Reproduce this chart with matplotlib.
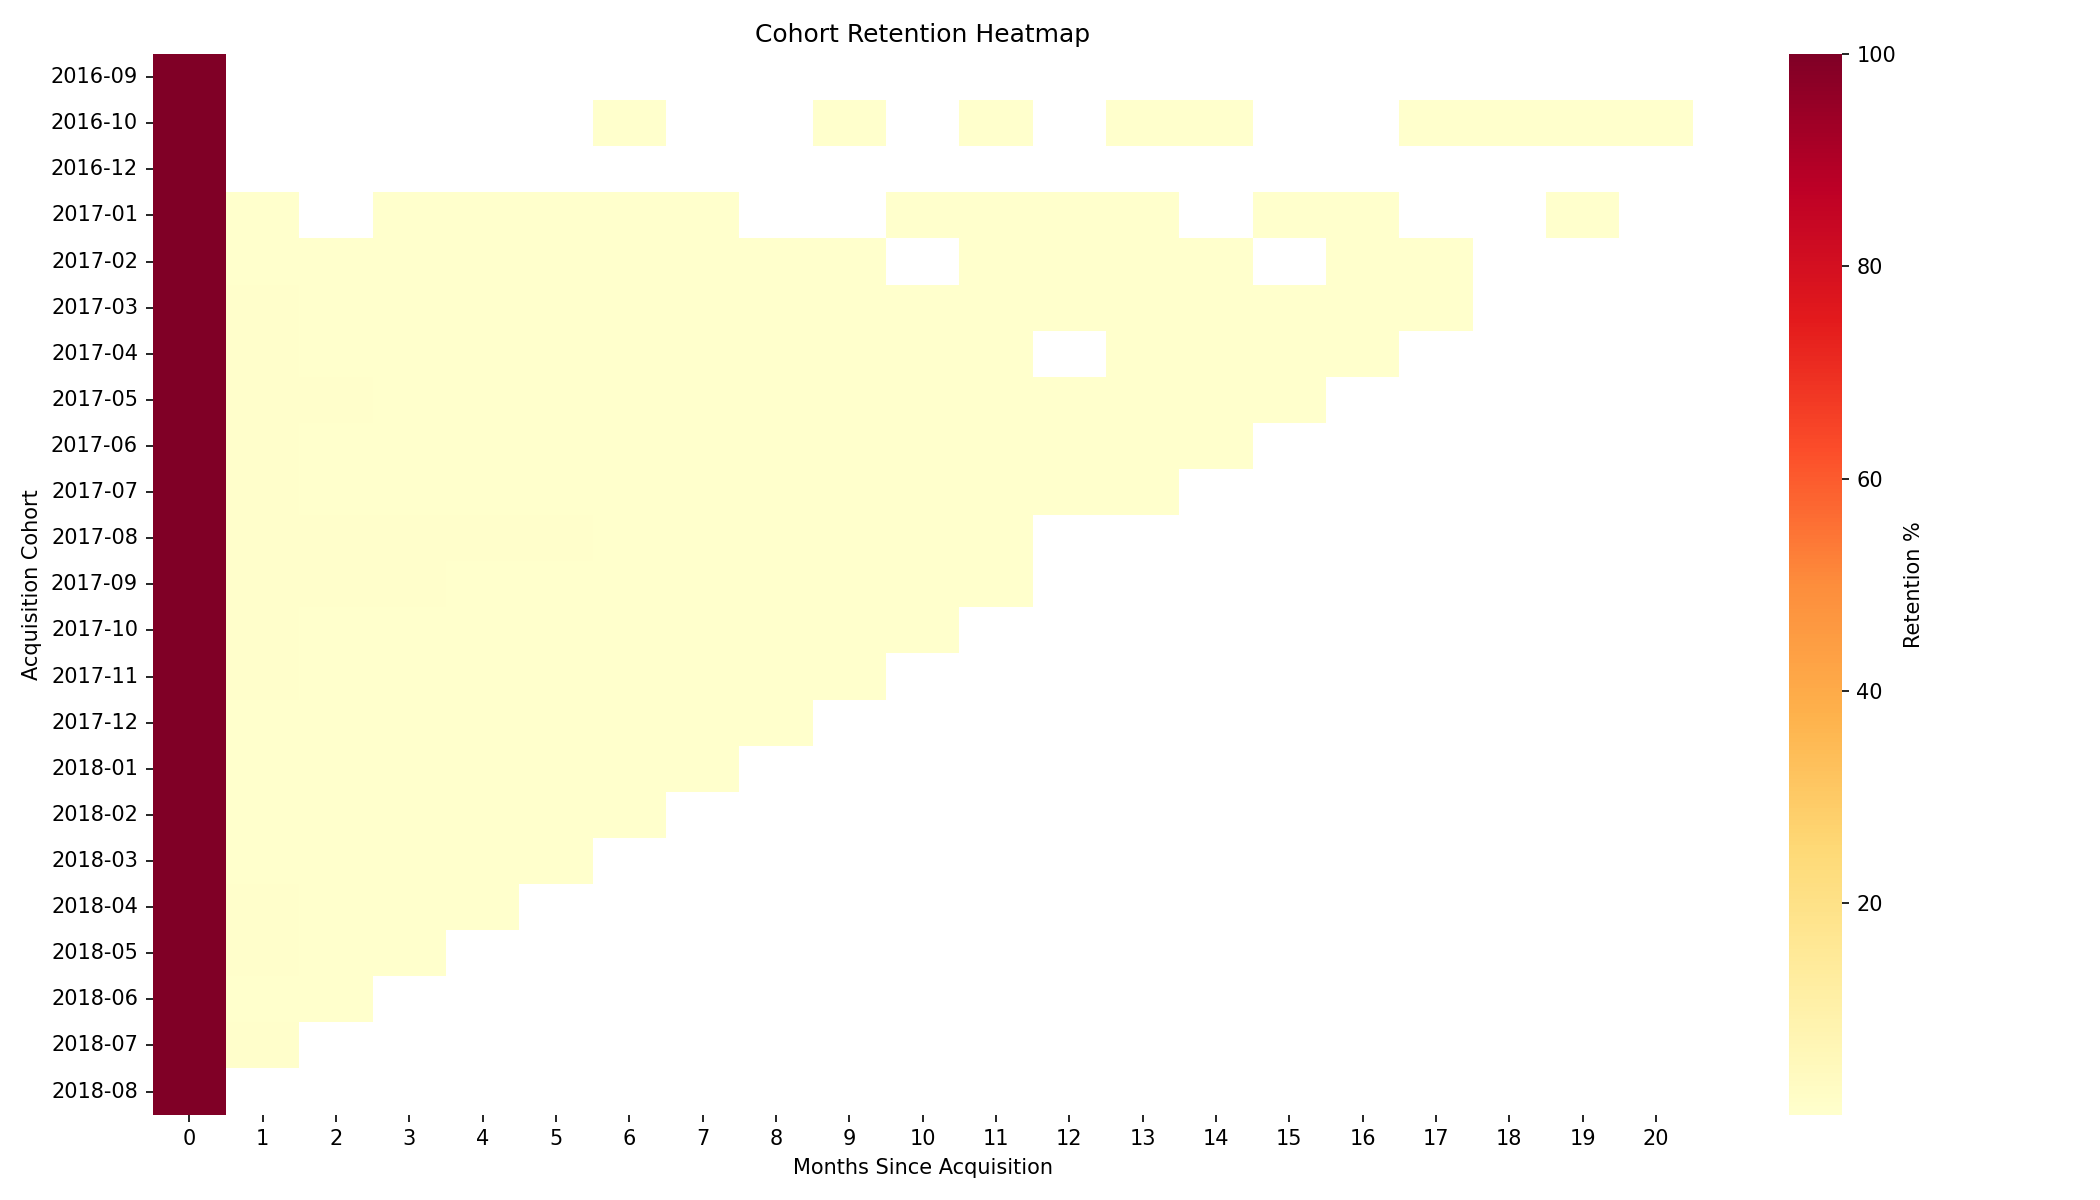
import numpy as np
import pandas as pd
import seaborn as sns
import matplotlib
matplotlib.use("Agg")
import matplotlib.pyplot as plt

n = np.nan
cohorts = ["2016-09", "2016-10", "2016-12", "2017-01", "2017-02", "2017-03", "2017-04",
           "2017-05", "2017-06", "2017-07", "2017-08", "2017-09", "2017-10", "2017-11",
           "2017-12", "2018-01", "2018-02", "2018-03", "2018-04", "2018-05", "2018-06",
           "2018-07", "2018-08"]
months = list(range(21))

r_1609 = [100]
r_1610 = [100, n, n, n, n, n, 0.3, n, n, 0.3, n, 0.3, n, 0.3, 0.3, n, n, 0.3, 0.3, 0.3, 0.3]
r_1612 = [100]
r_1701 = [100, 0.3, n, 0.4, 0.3, 0.3, 0.3, 0.3, n, n, 0.3, 0.4, 0.3, 0.4, n, 0.3, 0.3, n, n, 0.3]
r_1702 = [100, 0.25, 0.3, 0.2, 0.4, 0.2, 0.25, 0.2, 0.2, 0.2, n, 0.15, 0.3, 0.2, 0.3, n, 0.2, 0.2]
r_1703 = [100, 0.5, 0.35, 0.4, 0.35, 0.2, 0.2, 0.3, 0.35, 0.3, 0.4, 0.2, 0.2, 0.15, 0.2, 0.25, 0.2, 0.2]
r_1704 = [100, 0.6, 0.2, 0.2, 0.3, 0.25, 0.35, 0.3, 0.3, 0.3, 0.2, 0.1, n, 0.2, 0.1, 0.1, 0.15]
r_1705 = [100, 0.5, 0.5, 0.4, 0.3, 0.3, 0.4, 0.15, 0.25, 0.3, 0.25, 0.35, 0.25, 0.2, 0.25, 0.25]
r_1706 = [100, 0.5, 0.4, 0.4, 0.3, 0.4, 0.35, 0.35, 0.15, 0.2, 0.3, 0.35, 0.2, 0.25, 0.15]
r_1707 = [100, 0.5, 0.35, 0.25, 0.3, 0.2, 0.3, 0.3, 0.15, 0.25, 0.2, 0.3, 0.25, 0.3]
r_1708 = [100, 0.7, 0.6, 0.5, 0.5, 0.6, 0.3, 0.3, 0.25, 0.4, 0.2, 0.3]
r_1709 = [100, 0.7, 0.55, 0.6, 0.4, 0.4, 0.25, 0.3, 0.35, 0.25, 0.3, 0.25]
r_1710 = [100, 0.7, 0.4, 0.3, 0.35, 0.25, 0.25, 0.3, 0.35, 0.25, 0.2]
r_1711 = [100, 0.6, 0.4, 0.2, 0.2, 0.2, 0.15, 0.15, 0.2, 0.15]
r_1712 = [100, 0.25, 0.3, 0.3, 0.3, 0.2, 0.2, 0.2, 0.15]
r_1801 = [100, 0.35, 0.35, 0.3, 0.35, 0.25, 0.2, 0.2]
r_1802 = [100, 0.35, 0.35, 0.3, 0.25, 0.25, 0.2]
r_1803 = [100, 0.4, 0.3, 0.35, 0.35, 0.2]
r_1804 = [100, 0.6, 0.3, 0.2, 0.2]
r_1805 = [100, 0.5, 0.35, 0.3]
r_1806 = [100, 0.45, 0.3]
r_1807 = [100, 0.5]
r_1808 = [100]

rows = [r_1609, r_1610, r_1612, r_1701, r_1702, r_1703, r_1704, r_1705, r_1706, r_1707,
        r_1708, r_1709, r_1710, r_1711, r_1712, r_1801, r_1802, r_1803, r_1804, r_1805,
        r_1806, r_1807, r_1808]

data = np.full((len(cohorts), len(months)), np.nan)
for i, r in enumerate(rows):
    data[i, :len(r)] = r
df = pd.DataFrame(data, index=cohorts, columns=months)

fig, ax = plt.subplots(figsize=(14, 8), dpi=150)
sns.heatmap(df, cmap="YlOrRd", ax=ax, cbar_kws={"label": "Retention %"})
ax.set_title("Cohort Retention Heatmap")
ax.set_xlabel("Months Since Acquisition")
ax.set_ylabel("Acquisition Cohort")
ax.set_yticklabels(cohorts, rotation=0)
plt.tight_layout()
plt.savefig("out.png")
